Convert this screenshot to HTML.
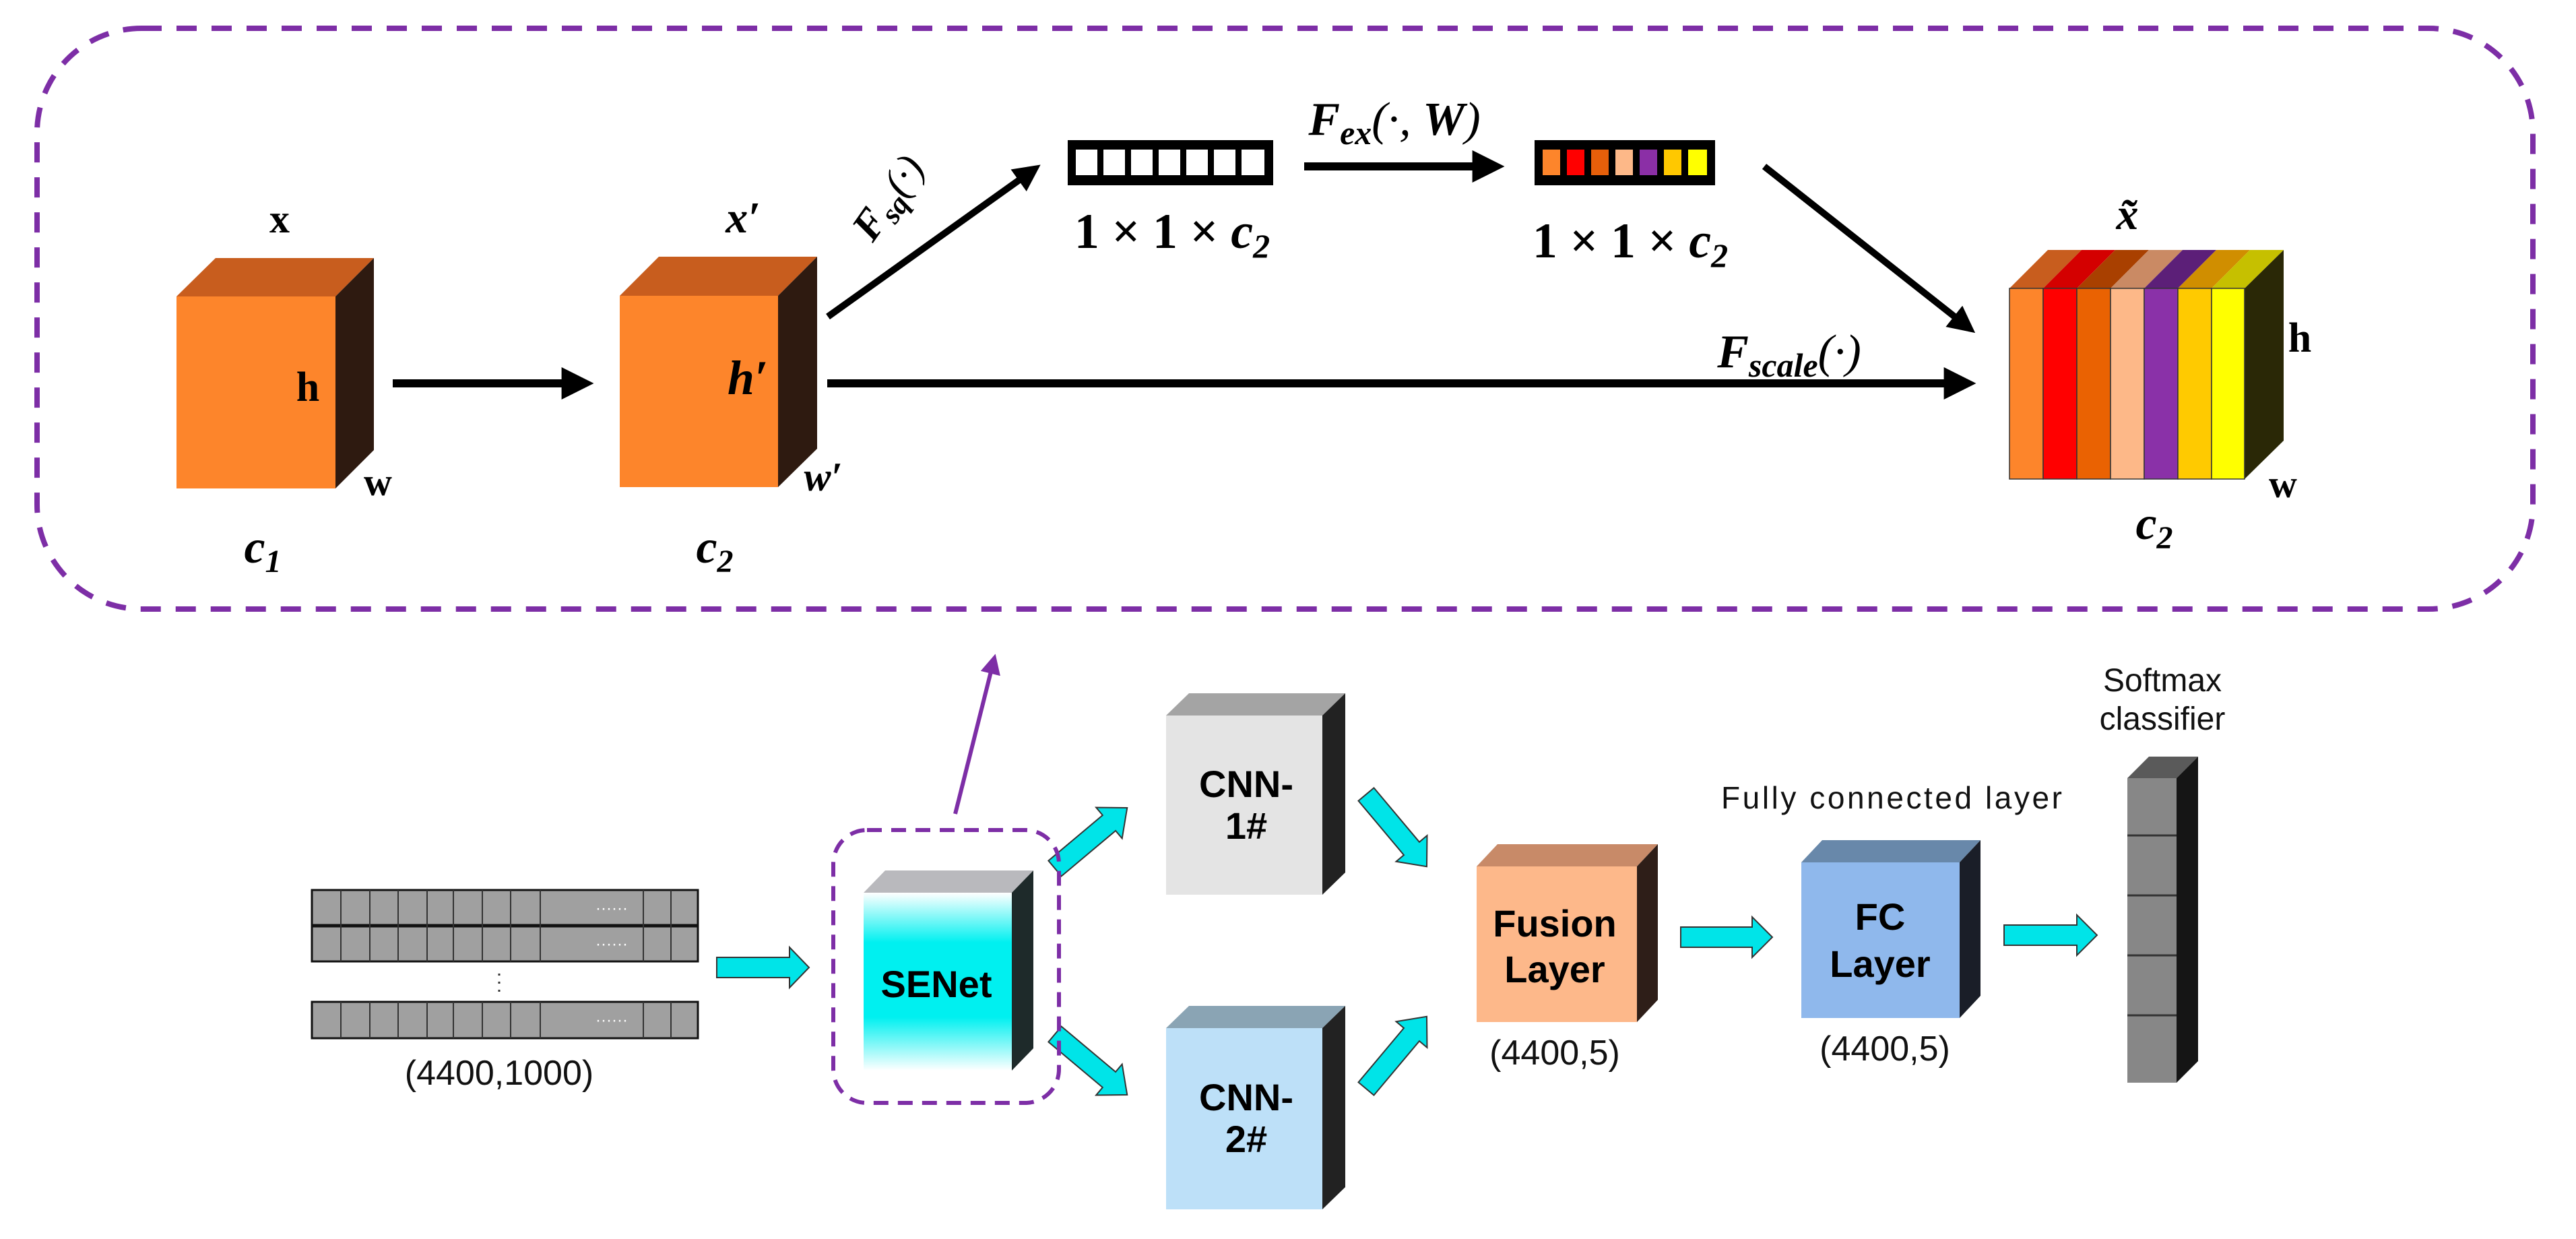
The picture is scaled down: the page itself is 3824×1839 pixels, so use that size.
<!DOCTYPE html>
<html><head><meta charset="utf-8"><style>html,body{margin:0;padding:0;background:#fff}svg{display:block}</style></head>
<body>
<svg width="3824" height="1839" viewBox="0 0 3824 1839" xmlns="http://www.w3.org/2000/svg">
<defs>
<marker id="ah" markerWidth="4" markerHeight="4" refX="2.2" refY="2" orient="auto" markerUnits="strokeWidth"><path d="M0,0 L4,2 L0,4 Z" fill="#000"/></marker>
<marker id="ahp" markerWidth="5" markerHeight="5" refX="2.5" refY="2.5" orient="auto" markerUnits="strokeWidth"><path d="M0,0 L5,2.5 L0,5 Z" fill="#7d2ea6"/></marker>
<linearGradient id="sg" x1="0" y1="0" x2="0" y2="1">
<stop offset="0" stop-color="#fff"/><stop offset="0.28" stop-color="#00f0f0"/><stop offset="0.7" stop-color="#00f0f0"/><stop offset="1" stop-color="#fff"/></linearGradient>
</defs>
<rect x="55" y="42" width="3705" height="862" rx="155" ry="155" fill="none" stroke="#7d2ea6" stroke-width="8" stroke-dasharray="30,22"/>

<g font-family="Liberation Serif, serif" font-weight="bold" fill="#000">
<polygon points="262,440 320,383 555,383 498,440" fill="#c85d1e"/>
<polygon points="498,440 555,383 555,668 498,725" fill="#2e1a10"/>
<rect x="262" y="440" width="236" height="285" fill="#fd852b"/>
<text x="415" y="345" font-size="60" text-anchor="middle">x</text>
<text x="457" y="595" font-size="62" text-anchor="middle">h</text>
<text x="561" y="735" font-size="58" text-anchor="middle">w</text>
<text x="390" y="835" font-size="70" font-style="italic" text-anchor="middle">c<tspan font-size="48" dy="14">1</tspan></text>
<polygon points="920,439 978,381 1213,381 1155,439" fill="#c85d1e"/>
<polygon points="1155,439 1213,381 1213,666 1155,723" fill="#2e1a10"/>
<rect x="920" y="439" width="235" height="284" fill="#fd852b"/>
<text x="1103" y="345" font-size="66" font-style="italic" text-anchor="middle">x′</text>
<text x="1110" y="585" font-size="72" font-style="italic" text-anchor="middle">h′</text>
<text x="1222" y="728" font-size="60" font-style="italic" text-anchor="middle">w′</text>
<text x="1061" y="835" font-size="70" font-style="italic" text-anchor="middle">c<tspan font-size="48" dy="14">2</tspan></text>

<line x1="583" y1="569" x2="860" y2="569" stroke="#000" stroke-width="12" marker-end="url(#ah)"/>
<line x1="1228" y1="569" x2="2912" y2="569" stroke="#000" stroke-width="12" marker-end="url(#ah)"/>
<line x1="1229" y1="470" x2="1530" y2="255" stroke="#000" stroke-width="10" marker-end="url(#ah)"/>
<line x1="1936" y1="247" x2="2212" y2="247" stroke="#000" stroke-width="12" marker-end="url(#ah)"/>
<line x1="2619" y1="247" x2="2918" y2="483" stroke="#000" stroke-width="10" marker-end="url(#ah)"/>

<text x="0" y="0" font-size="62" font-style="italic" transform="translate(1335,305) rotate(-55)" text-anchor="middle">F<tspan font-size="44" dy="12">sq</tspan><tspan dy="-12" font-weight="normal">(·)</tspan></text>
<text x="2070" y="200" font-size="70" font-style="italic" text-anchor="middle">F<tspan font-size="50" dy="14">ex</tspan><tspan dy="-14" font-weight="normal">(·, </tspan>W<tspan font-weight="normal">)</tspan></text>
<text x="2656" y="545" font-size="70" font-style="italic" text-anchor="middle">F<tspan font-size="50" dy="14">scale</tspan><tspan dy="-14" font-weight="normal">(·)</tspan></text>

<rect x="1585" y="208" width="305" height="67" fill="#000"/>
<g fill="#fff">
<rect x="1597" y="222" width="32" height="38"/><rect x="1638" y="222" width="32" height="38"/><rect x="1679" y="222" width="32" height="38"/><rect x="1720" y="222" width="32" height="38"/><rect x="1761" y="222" width="32" height="38"/><rect x="1802" y="222" width="32" height="38"/><rect x="1843" y="222" width="34" height="38"/>
</g>
<text x="1740" y="368" font-size="74" text-anchor="middle">1 × 1 × <tspan font-style="italic">c</tspan><tspan font-size="50" dy="14" font-style="italic">2</tspan></text>
<rect x="2278" y="208" width="268" height="67" fill="#000"/>
<rect x="2290" y="222" width="26" height="38" fill="#fd852b"/>
<rect x="2326" y="222" width="26" height="38" fill="#ff0000"/>
<rect x="2362" y="222" width="26" height="38" fill="#e65f0a"/>
<rect x="2398" y="222" width="26" height="38" fill="#fdb888"/>
<rect x="2434" y="222" width="26" height="38" fill="#8b2fa6"/>
<rect x="2470" y="222" width="26" height="38" fill="#ffc800"/>
<rect x="2506" y="222" width="28" height="38" fill="#ffff00"/>
<text x="2420" y="382" font-size="74" text-anchor="middle">1 × 1 × <tspan font-style="italic">c</tspan><tspan font-size="50" dy="14" font-style="italic">2</tspan></text>

<!-- stacked cube -->
<polygon points="3332,428 3390,371 3390,654 3332,711" fill="#2a2806"/>
<polygon points="2983,428 3040,371 3090,371 3033,428" fill="#c85d1e"/>
<polygon points="3033,428 3090,371 3140,371 3083,428" fill="#d40000"/>
<polygon points="3083,428 3140,371 3190,371 3133,428" fill="#a94000"/>
<polygon points="3133,428 3190,371 3240,371 3183,428" fill="#ca8a64"/>
<polygon points="3183,428 3240,371 3290,371 3233,428" fill="#5c1f78"/>
<polygon points="3233,428 3290,371 3340,371 3283,428" fill="#d08e00"/>
<polygon points="3283,428 3340,371 3390,371 3332,428" fill="#c6c000"/>
<g stroke="#333" stroke-width="1.5">
<rect x="2983" y="428" width="50" height="283" fill="#fd852b"/>
<rect x="3033" y="428" width="50" height="283" fill="#ff0000"/>
<rect x="3083" y="428" width="50" height="283" fill="#ea6202"/>
<rect x="3133" y="428" width="50" height="283" fill="#fdb888"/>
<rect x="3183" y="428" width="50" height="283" fill="#8a31a8"/>
<rect x="3233" y="428" width="50" height="283" fill="#ffca00"/>
<rect x="3283" y="428" width="49" height="283" fill="#ffff00"/>
</g>
<text x="3158" y="340" font-size="66" font-style="italic" text-anchor="middle">x̃</text>
<text x="3414" y="522" font-size="62" text-anchor="middle">h</text>
<text x="3389" y="738" font-size="58" text-anchor="middle">w</text>
<text x="3198" y="800" font-size="70" font-style="italic" text-anchor="middle">c<tspan font-size="48" dy="14">2</tspan></text>
</g>

<line x1="1418" y1="1208" x2="1474" y2="985" stroke="#7d2ea6" stroke-width="6" marker-end="url(#ahp)"/>

<g stroke="#111" stroke-width="3" fill="#a0a0a0">
<rect x="463" y="1321" width="573" height="52"/>
<rect x="463" y="1375" width="573" height="52"/>
<rect x="463" y="1487" width="573" height="54"/>
</g>
<g stroke="#333" stroke-width="2">
<path d="M506,1321V1427M549,1321V1427M591,1321V1427M634,1321V1427M673,1321V1427M716,1321V1427M758,1321V1427M802,1321V1427M955,1321V1427M996,1321V1427"/>
<path d="M506,1487V1541M549,1487V1541M591,1487V1541M634,1487V1541M673,1487V1541M716,1487V1541M758,1487V1541M802,1487V1541M955,1487V1541M996,1487V1541"/>
</g>
<g fill="#fff" font-family="Liberation Sans, sans-serif" font-size="24">
<text x="908" y="1356" text-anchor="middle">······</text>
<text x="908" y="1409" text-anchor="middle">······</text>
<text x="908" y="1522" text-anchor="middle">······</text>
</g>
<path d="M741,1445V1480" stroke="#333" stroke-width="3" stroke-dasharray="3,9"/>

<g font-family="Liberation Sans, sans-serif" fill="#111">
<text x="741" y="1610" font-size="52" text-anchor="middle">(4400,1000)</text>
<text x="2308" y="1580" font-size="52" text-anchor="middle">(4400,5)</text>
<text x="2798" y="1574" font-size="52" text-anchor="middle">(4400,5)</text>
<text x="2808" y="1200" font-size="46" text-anchor="middle" textLength="506">Fully connected layer</text>
<text x="3210" y="1026" font-size="48" text-anchor="middle">Softmax</text>
<text x="3210" y="1083" font-size="48" text-anchor="middle">classifier</text>
</g>

<g fill="#00e4e8" stroke="#333" stroke-width="2">
<polygon points="1064,1421 1172,1421 1172,1406 1201,1436 1172,1466 1172,1451 1064,1451"/>
<polygon points="2495,1376 2601,1376 2601,1361 2631,1391 2601,1421 2601,1406 2495,1406"/>
<polygon points="2975,1373 3083,1373 3083,1358 3113,1388 3083,1418 3083,1403 2975,1403"/>
<g transform="translate(1566,1289) rotate(-40)"><polygon points="0,-15 105,-15 105,-30 140,0 105,30 105,15 0,15"/></g>
<g transform="translate(1566,1535) rotate(40)"><polygon points="0,-15 105,-15 105,-30 140,0 105,30 105,15 0,15"/></g>
<g transform="translate(2028,1179) rotate(50)"><polygon points="0,-15 105,-15 105,-30 140,0 105,30 105,15 0,15"/></g>
<g transform="translate(2028,1616) rotate(-50)"><polygon points="0,-15 105,-15 105,-30 140,0 105,30 105,15 0,15"/></g>
</g>

<rect x="1237" y="1232" width="335" height="405" rx="50" ry="50" fill="none" stroke="#7d2ea6" stroke-width="6" stroke-dasharray="22,14"/>
<polygon points="1282,1325 1314,1292 1534,1292 1502,1325" fill="#b9b9bd"/>
<polygon points="1502,1325 1534,1292 1534,1556 1502,1589" fill="#1e2a2a"/>
<rect x="1282" y="1325" width="220" height="264" fill="url(#sg)"/>

<polygon points="1731,1062 1765,1029 1997,1029 1963,1062" fill="#a4a4a4"/>
<polygon points="1963,1062 1997,1029 1997,1295 1963,1328" fill="#222"/>
<rect x="1731" y="1062" width="232" height="266" fill="#e4e4e4"/>
<polygon points="1731,1526 1765,1493 1997,1493 1963,1526" fill="#8aa4b4"/>
<polygon points="1963,1526 1997,1493 1997,1762 1963,1795" fill="#222"/>
<rect x="1731" y="1526" width="232" height="269" fill="#bde0f8"/>
<polygon points="2192,1286 2223,1253 2461,1253 2430,1286" fill="#c88a68"/>
<polygon points="2430,1286 2461,1253 2461,1484 2430,1517" fill="#2e1e18"/>
<rect x="2192" y="1286" width="238" height="231" fill="#fdb88a"/>
<polygon points="2674,1280 2705,1247 2940,1247 2909,1280" fill="#6888aa"/>
<polygon points="2909,1280 2940,1247 2940,1478 2909,1511" fill="#1a1e28"/>
<rect x="2674" y="1280" width="235" height="231" fill="#8fb8ec"/>
<polygon points="3158,1155 3190,1123 3263,1123 3231,1155" fill="#5a5a5a"/>
<polygon points="3231,1155 3263,1123 3263,1575 3231,1607" fill="#151515"/>
<rect x="3158" y="1155" width="73" height="452" fill="#878787"/>
<path d="M3158,1240H3231M3158,1329H3231M3158,1418H3231M3158,1507H3231" stroke="#333" stroke-width="3"/>

<g font-family="Liberation Sans, sans-serif" font-weight="bold" fill="#000" text-anchor="middle">
<text x="1390" y="1480" font-size="56">SENet</text>
<text x="1850" y="1183" font-size="56">CNN-</text>
<text x="1850" y="1245" font-size="56">1#</text>
<text x="1850" y="1648" font-size="56">CNN-</text>
<text x="1850" y="1710" font-size="56">2#</text>
<text x="2308" y="1390" font-size="56">Fusion</text>
<text x="2308" y="1458" font-size="56">Layer</text>
<text x="2791" y="1380" font-size="56">FC</text>
<text x="2791" y="1450" font-size="56">Layer</text>
</g>
</svg>
</body></html>
